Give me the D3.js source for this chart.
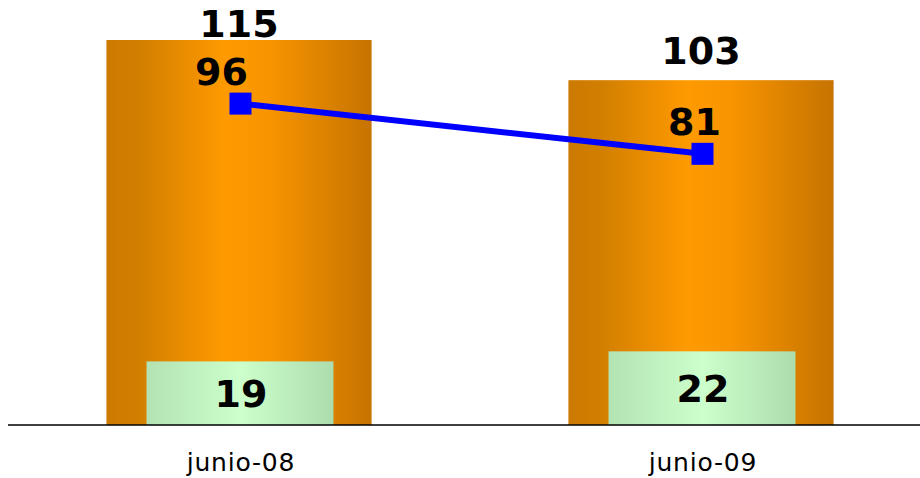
<!DOCTYPE html>
<html><head><meta charset="utf-8">
<script src="https://cdn.jsdelivr.net/npm/d3@7"></script>
<style>html,body{margin:0;padding:0;background:#fff;}svg{display:block;}</style>
</head><body>
<svg id="c" width="920" height="478"></svg>
<script>
const categories = ["junio-08", "junio-09"];
const totalValues = [115, 103];
const innerValues = [19, 22];
const lineValues = [96, 81];

const svg = d3.select("#c");
const W = 920, H = 478;
const baseY = 425, topY = 40;

const x = d3.scaleBand().domain(categories).range([8, 932]).paddingInner(0.426).paddingOuter(0.213);
const y = d3.scaleLinear().domain([0, 115]).range([baseY, topY]);

const defs = svg.append("defs");
const og = defs.append("linearGradient").attr("id", "og").attr("x1", "0").attr("x2", "1").attr("y1", "0").attr("y2", "0");
og.append("stop").attr("offset", "0").attr("stop-color", "#CC7A00");
og.append("stop").attr("offset", "0.12").attr("stop-color", "#D17E00");
og.append("stop").attr("offset", "0.45").attr("stop-color", "#FF9A00");
og.append("stop").attr("offset", "0.62").attr("stop-color", "#F79400");
og.append("stop").attr("offset", "1").attr("stop-color", "#C67300");
const gg = defs.append("linearGradient").attr("id", "gg").attr("x1", "0").attr("x2", "1").attr("y1", "0").attr("y2", "0");
gg.append("stop").attr("offset", "0").attr("stop-color", "#B3E2B3");
gg.append("stop").attr("offset", "0.5").attr("stop-color", "#CCFFCC");
gg.append("stop").attr("offset", "1").attr("stop-color", "#ADDCAD");

const bw = x.bandwidth();
const cx = c => x(c) + bw / 2;

svg.selectAll("rect.tot").data(categories).join("rect").attr("class", "tot")
  .attr("x", c => x(c)).attr("width", bw)
  .attr("y", (c, i) => y(totalValues[i])).attr("height", (c, i) => baseY - y(totalValues[i]))
  .attr("fill", "url(#og)");

const gw = bw * 0.705;
svg.selectAll("rect.inn").data(categories).join("rect").attr("class", "inn")
  .attr("x", c => cx(c) - gw / 2 + 1).attr("width", gw)
  .attr("y", (c, i) => y(innerValues[i])).attr("height", (c, i) => baseY - y(innerValues[i]))
  .attr("fill", "url(#gg)");

svg.append("line").attr("x1", 8).attr("x2", 920).attr("y1", baseY).attr("y2", baseY)
  .attr("stroke", "#000").attr("stroke-width", 1.5);

const lineX = c => cx(c) + 1.5;
const line = d3.line().x((d, i) => lineX(categories[i])).y(d => y(d));
svg.append("path").datum(lineValues).attr("d", line).attr("fill", "none")
  .attr("stroke", "#0000FF").attr("stroke-width", 6);
const ms = 22;
svg.selectAll("rect.mk").data(lineValues).join("rect").attr("class", "mk")
  .attr("x", (d, i) => lineX(categories[i]) - ms / 2).attr("y", d => y(d) - ms / 2)
  .attr("width", ms).attr("height", ms).attr("fill", "#0000FF");

const bold = "'DejaVu Sans', Verdana, sans-serif";
svg.selectAll("text.tot").data(totalValues).join("text").attr("class", "tot")
  .attr("x", (d, i) => cx(categories[i])).attr("y", d => Math.max(y(d) - 16, 37))
  .attr("text-anchor", "middle").attr("font-family", bold).attr("font-weight", "bold")
  .attr("font-size", 38).attr("fill", "#000").text(d => d);

const lineLabelDx = [-19, -8];
svg.selectAll("text.ln").data(lineValues).join("text").attr("class", "ln")
  .attr("x", (d, i) => lineX(categories[i]) + lineLabelDx[i]).attr("y", d => y(d) - 19)
  .attr("text-anchor", "middle").attr("font-family", bold).attr("font-weight", "bold")
  .attr("font-size", 38).attr("fill", "#000").text(d => d);

svg.selectAll("text.inn").data(innerValues).join("text").attr("class", "inn")
  .attr("x", (d, i) => cx(categories[i]) + 2).attr("y", (d, i) => (y(d) + baseY) / 2 + 14)
  .attr("text-anchor", "middle").attr("font-family", bold).attr("font-weight", "bold")
  .attr("font-size", 38).attr("fill", "#000").text(d => d);

svg.selectAll("text.cat").data(categories).join("text").attr("class", "cat")
  .attr("x", c => cx(c) + 2).attr("y", 471)
  .attr("text-anchor", "middle").attr("font-family", bold)
  .attr("font-size", 25).attr("letter-spacing", 0.8).attr("fill", "#000").text(c => c);
</script>
</body></html>
